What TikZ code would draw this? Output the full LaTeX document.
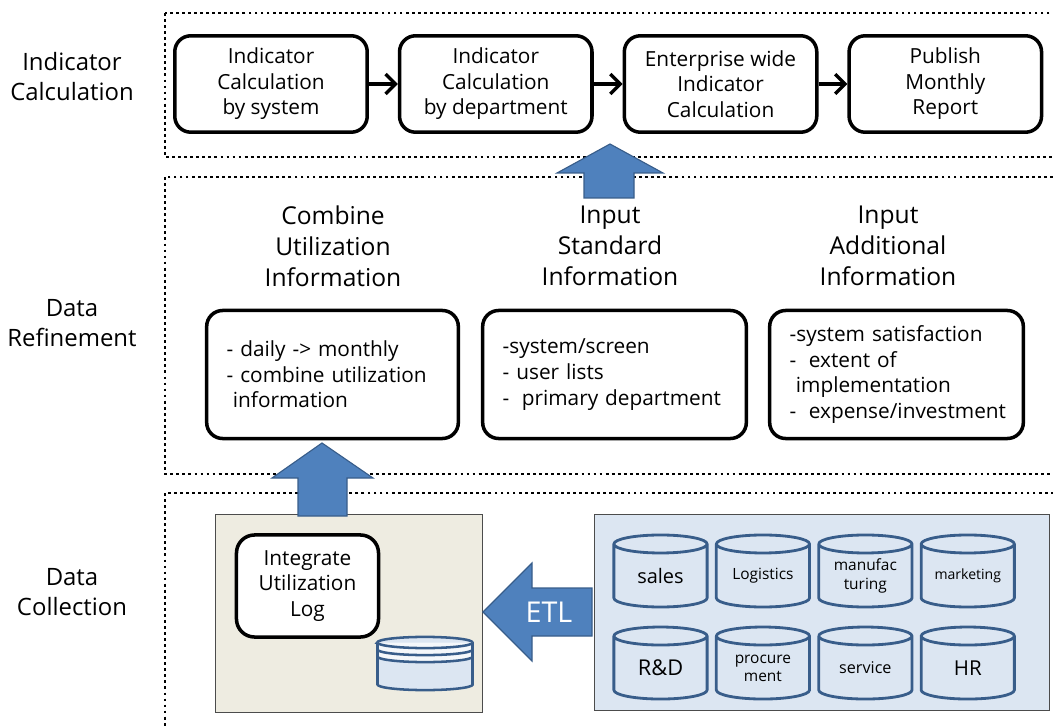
\documentclass[tikz,border=0pt]{standalone}
\usepackage{fontspec}
\setmainfont{Open Sans}
\usetikzlibrary{positioning,shapes.geometric,arrows.meta}

\definecolor{arrowblue}{HTML}{4F81BD}
\definecolor{arrowedge}{HTML}{385D8A}
\definecolor{dbfill}{HTML}{DCE6F2}
\definecolor{logfill}{HTML}{EEECE1}

\begin{document}
\begin{tikzpicture}[
        x=0.025cm, y=-0.025cm,
        node distance=0.72cm,
        every node/.style={align=center, font=\fontsize{14.8}{18.2}\selectfont},
        section/.style={line width=2pt, dash pattern=on 2pt off 2.3pt},
        rowlabel/.style={font=\fontsize{17}{21.3}\selectfont},
        heading/.style={font=\fontsize{17.5}{22}\selectfont},
        stage/.style={draw, fill=white, line width=2.5pt, rounded corners=0.4cm, minimum width=4.81cm, minimum height=2.41cm},
        detail/.style={draw, fill=white, line width=2.5pt, rounded corners=0.4cm, minimum height=3.2cm, align=left, inner xsep=0.5cm},
        area/.style={draw=black!70, line width=0.6pt},
        db/.style={minimum width=2.33cm, minimum height=1.8cm, inner sep=0pt, outer sep=0pt},
        dbline/.style={draw=arrowedge, line width=2pt, line join=round},
        disk/.style={draw=arrowedge, line width=1.8pt},
        fatarrow/.style={fill=arrowblue, draw=arrowedge, line width=0.8pt},
        arrow/.style={->, line width=2.4pt, >={Straight Barb[length=7pt, width=14pt]}}
    ]
        \clip (0,0) rectangle (1053,728);

        % Section frames
        \draw[section] (165,13) rectangle (1080,157);
        \draw[section] (165,177) rectangle (1080,474);
        \draw[section] (165,493) rectangle (1080,760);

        % Row labels
        \node[rowlabel] (calcLabel) at (72,77) {Indicator\\Calculation};
        \node[rowlabel] (refineLabel) at (72,323) {Data\\Refinement};
        \node[rowlabel] (collectLabel) at (72,592) {Data\\Collection};

        % Indicator calculation
        \node[stage] (bySystem) at (271,84) {Indicator\\Calculation\\by system};
        \node[stage, right=of bySystem] (byDepartment) {Indicator\\Calculation\\by department};
        \node[stage, right=of byDepartment] (enterprise) {Enterprise wide\\Indicator\\Calculation};
        \node[stage, right=of enterprise] (publish) {Publish\\Monthly\\Report};

        \foreach \a/\b in {bySystem/byDepartment, byDepartment/enterprise, enterprise/publish} {
            \draw[arrow] (\a) -- (\b);
        }

        % Data refinement
        \node[heading] (combineHead) at (333,246) {Combine\\Utilization\\Information};
        \node[heading] (standardHead) at (610,246) {Input\\Standard\\Information};
        \node[heading] (additionalHead) at (888,246) {Input\\Additional\\Information};

        \node[detail, text width=5.29cm] (combineBox) at (332.5,374.5)
            {- daily -> monthly\\- combine utilization\\\hspace{0.3em}information};
        \node[detail, text width=5.59cm] (standardBox) at (614.5,374.5)
            {-system/screen\\- user lists\\-\hspace{0.6em}primary department};
        \node[detail, text width=5.34cm] (additionalBox) at (896.5,374.5)
            {-system satisfaction\\-\hspace{0.6em}extent of\\\hspace{0.3em}implementation\\\mbox{-\hspace{0.6em}expense/investment}};

        % Data collection
        \node[area, fill=logfill, minimum width=6.675cm, minimum height=4.95cm] (logArea) at (348.5,613) {};
        \node[stage, minimum width=3.55cm, minimum height=2.55cm, rounded corners=0.45cm] (logBox) at (307.5,586)
            {Integrate\\Utilization\\Log};

        % log storage disk
        \draw[disk, fill=dbfill] (377.5,642.5) -- (377.5,684.5) arc[start angle=180, end angle=360, x radius=1.19cm, y radius=0.14cm]
            -- (472.5,642.5) arc[start angle=0, end angle=180, x radius=1.19cm, y radius=0.14cm] -- cycle;
        \fill[white!70!dbfill] (377.5,642.5) -- (377.5,656.5) arc[start angle=180, end angle=360, x radius=1.19cm, y radius=0.14cm]
            -- (472.5,642.5) -- cycle;
        \draw[disk] (377.5,642.5) arc[start angle=180, end angle=360, x radius=1.19cm, y radius=0.14cm];
        \draw[disk] (377.5,649.5) arc[start angle=180, end angle=360, x radius=1.19cm, y radius=0.14cm];
        \draw[disk] (377.5,656.5) arc[start angle=180, end angle=360, x radius=1.19cm, y radius=0.14cm];
        \draw[disk] (377.5,642.5) -- (377.5,684.5) (472.5,642.5) -- (472.5,684.5);

        \node[area, fill=dbfill, minimum width=11.375cm, minimum height=4.9cm] (sourceArea) at (821.5,612) {};

        % Source systems
        \node[db, font=\fontsize{14.2}{16}\selectfont] (sales) at (660.5,576) {sales};
        \node[db, font=\fontsize{11}{13}\selectfont, right=0.23cm of sales] (logistics) {Logistics};
        \node[db, font=\fontsize{11}{13}\selectfont, right=0.23cm of logistics] (manufacturing) {manufac\\turing};
        \node[db, font=\fontsize{10}{12}\selectfont, right=0.23cm of manufacturing] (marketing) {marketing};
        \node[db, font=\fontsize{15.5}{17}\selectfont, below=0.5cm of sales] (rnd) {R\&D};
        \node[db, font=\fontsize{11}{13}\selectfont, right=0.23cm of rnd] (procurement) {procure\\ment};
        \node[db, font=\fontsize{11.5}{13}\selectfont, right=0.23cm of procurement] (service) {service};
        \node[db, font=\fontsize{14.6}{16}\selectfont, right=0.23cm of service] (hr) {HR};

        \foreach \n in {sales, logistics, manufacturing, marketing, rnd, procurement, service, hr} {
            \draw[dbline] ([yshift=-0.1cm]\n.north west) -- ([yshift=0.35cm]\n.south west)
                arc[start angle=180, end angle=360, x radius=1.165cm, y radius=0.225cm]
                -- ([yshift=-0.1cm]\n.north east)
                arc[start angle=0, end angle=180, x radius=1.165cm, y radius=0.225cm]
                arc[start angle=180, end angle=360, x radius=1.165cm, y radius=0.225cm];
        }

        % Flow arrows between layers
        \draw[fatarrow] (584,198) -- (584,173) -- (557,173) -- (610,144) -- (663,173) -- (634,173) -- (634,198) -- cycle;
        \draw[fatarrow] (298,516) -- (298,478) -- (272,478) -- (322,443) -- (373,478) -- (347,478) -- (347,516) -- cycle;
        \draw[fatarrow] (592,588) -- (532,588) -- (532,563) -- (483,612) -- (532,661) -- (532,636) -- (592,636) -- cycle;
        \node[text=white, font=\fontsize{20.4}{22}\selectfont] (etl) at (549,612) {ETL};

    \end{tikzpicture}
\end{document}
